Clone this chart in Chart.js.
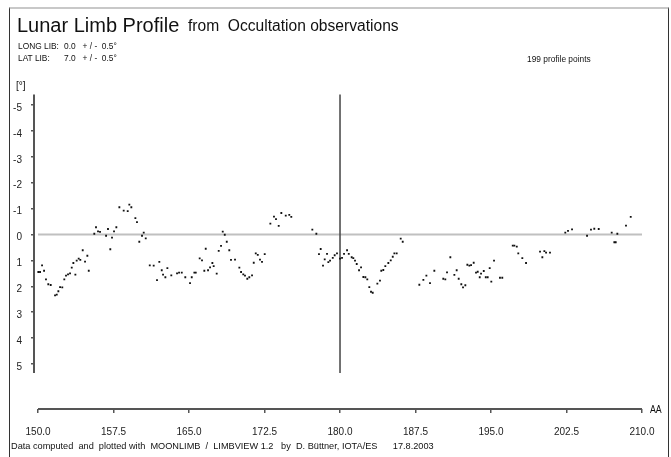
<!DOCTYPE html>
<html>
<head>
<meta charset="utf-8">
<script src="https://cdn.jsdelivr.net/npm/chart.js@4.4.1/dist/chart.umd.min.js"></script>
<style>
  body { margin: 0; background: #fff; font-family: "Liberation Sans", Arial, sans-serif; color: #111; }
  #wrap { position: relative; width: 671px; height: 457px; overflow: hidden; }
  #limbChart { position: absolute; left: 0; top: 0; }
  #frame { position: absolute; left: 9px; top: 7px; width: 658px; height: 470px;
           border-top: 2px solid #c8c8c8; border-left: 1px solid #333; border-right: 1px solid #333; }
  .t { position: absolute; white-space: pre; line-height: 1; }
  .n { transform: scaleX(0.88); transform-origin: 0 0; }
</style>
</head>
<body>
<div id="wrap">
  <canvas id="limbChart" width="671" height="457"></canvas>
  <div id="frame"></div>
  <div class="t" style="left:17px;top:15px;font-size:20px">Lunar Limb Profile</div>
  <div class="t" style="left:188px;top:18px;font-size:15.6px">from  Occultation observations</div>
  <div class="t n" style="left:18px;top:41px;font-size:9.5px">LONG LIB:</div>
  <div class="t n" style="left:64px;top:41px;font-size:9.5px">0.0   + / -  0.5°</div>
  <div class="t n" style="left:18px;top:53px;font-size:9.5px">LAT LIB:</div>
  <div class="t n" style="left:64px;top:53px;font-size:9.5px">7.0   + / -  0.5°</div>
  <div class="t n" style="left:527px;top:54px;font-size:9.5px">199 profile points</div>
  <div class="t" style="left:16px;top:81px;font-size:10px">[°]</div>
  <div class="t n" style="left:650px;top:405px;font-size:10px">AA</div>
  <div class="t" style="left:11px;top:442px;font-size:9.2px">Data computed  and  plotted with  MOONLIMB  /  LIMBVIEW 1.2   by  D. Büttner, IOTA/ES      17.8.2003</div>
</div>
<script>
// profile points: Watts angle (AA, deg) and limb height (")
const aa = [
  150.03, 150.20, 150.40, 150.60, 150.79, 151.02, 151.26, 151.69, 151.86, 152.02,
  152.19, 152.41, 152.61, 152.78, 152.98, 153.18, 153.35, 153.51, 153.71, 153.84,
  154.04, 154.20, 154.44, 154.67, 154.90, 155.04, 155.59, 155.76, 155.96, 156.16,
  156.76, 156.95, 157.18, 157.35, 157.55, 157.78, 158.08, 158.51, 158.91, 159.07,
  159.27, 159.67, 159.83, 160.06, 160.33, 160.50, 160.70, 161.10, 161.49, 161.82,
  162.05, 162.29, 162.42, 162.65, 162.85, 163.24, 163.81, 164.01, 164.28, 164.63,
  165.10, 165.27, 165.53, 165.67, 166.06, 166.29, 166.52, 166.66, 166.89, 167.09,
  167.32, 167.45, 167.75, 167.95, 168.18, 168.35, 168.55, 168.75, 169.00, 169.17,
  169.57, 170.00, 170.17, 170.39, 170.56, 170.79, 170.99, 171.26, 171.43, 171.63,
  171.83, 172.05, 172.25, 172.52, 173.08, 173.44, 173.64, 173.91, 174.17, 174.61,
  174.96, 175.16, 177.25, 177.65, 177.91, 178.08, 178.31, 178.48, 178.71, 178.84,
  179.01, 179.28, 179.47, 179.70, 180.00, 180.20, 180.40, 180.70, 180.87, 181.16,
  181.32, 181.49, 181.66, 181.89, 182.09, 182.32, 182.52, 182.71, 182.91, 183.08,
  183.25, 183.71, 183.97, 184.10, 184.30, 184.50, 184.80, 185.04, 185.24, 185.40,
  185.63, 186.03, 186.23, 187.88, 188.28, 188.58, 188.94, 189.37, 190.26, 190.46,
  190.63, 190.96, 191.36, 191.59, 191.79, 192.05, 192.22, 192.45, 192.65, 192.85,
  193.02, 193.28, 193.51, 193.68, 193.88, 194.01, 194.28, 194.48, 194.67, 194.87,
  195.03, 195.30, 195.89, 196.12, 197.16, 197.32, 197.56, 197.71, 198.11, 198.48,
  199.87, 200.10, 200.30, 200.47, 200.86, 202.38, 202.65, 203.05, 204.54, 204.93,
  205.26, 205.70, 206.99, 207.25, 207.39, 207.55, 208.41, 208.88
];
const limb = [
  1.45, 1.45, 1.19, 1.40, 1.73, 1.92, 1.95, 2.35, 2.32, 2.19,
  2.03, 2.04, 1.73, 1.59, 1.54, 1.50, 1.28, 1.10, 1.55, 1.01,
  0.93, 0.98, 0.61, 1.05, 0.82, 1.40, -0.03, -0.28, -0.12, -0.10,
  0.05, -0.21, 0.57, 0.12, -0.12, -0.28, -1.05, -0.92, -0.90, -1.15,
  -1.05, -0.63, -0.48, 0.28, 0.05, -0.07, 0.15, 1.19, 1.20, 1.76,
  1.06, 1.38, 1.55, 1.65, 1.30, 1.58, 1.50, 1.47, 1.47, 1.65,
  1.88, 1.65, 1.47, 1.47, 0.92, 1.00, 1.40, 0.55, 1.38, 1.27,
  1.10, 1.22, 1.51, 0.63, 0.44, -0.11, 0.01, 0.28, 0.61, 0.98,
  0.97, 1.28, 1.45, 1.54, 1.59, 1.71, 1.65, 1.58, 1.09, 0.73,
  0.79, 0.97, 1.06, 0.76, -0.42, -0.69, -0.59, -0.33, -0.83, -0.73,
  -0.76, -0.68, -0.19, -0.03, 0.76, 0.56, 1.20, 0.96, 0.75, 1.07,
  1.01, 0.90, 0.80, 0.73, 0.93, 0.90, 0.75, 0.61, 0.75, 0.88,
  0.91, 1.01, 1.14, 1.38, 1.27, 1.64, 1.65, 1.73, 2.03, 2.21,
  2.25, 1.90, 1.78, 1.40, 1.37, 1.22, 1.10, 1.00, 0.86, 0.73,
  0.73, 0.16, 0.28, 1.94, 1.75, 1.59, 1.88, 1.40, 1.71, 1.73,
  1.46, 0.88, 1.56, 1.38, 1.71, 1.92, 2.04, 1.96, 1.17, 1.20,
  1.18, 1.09, 1.47, 1.44, 1.65, 1.51, 1.41, 1.65, 1.65, 1.30,
  1.82, 1.01, 1.67, 1.67, 0.43, 0.43, 0.47, 0.73, 0.91, 1.10,
  0.66, 0.88, 0.64, 0.70, 0.70, -0.07, -0.14, -0.20, 0.05, -0.19,
  -0.22, -0.21, -0.07, 0.30, 0.30, -0.03, -0.34, -0.68
];
const xTicks = [150, 157.5, 165, 172.5, 180, 187.5, 195, 202.5, 210];
const yTicks = [-5, -4, -3, -2, -1, 0, 1, 2, 3, 4, 5];

// axis lines, zero line and the 180 deg marker
const limbLines = {
  id: "limbLines",
  beforeDatasetsDraw(chart) {
    const { ctx, chartArea, scales: { x, y } } = chart;
    ctx.save();
    ctx.strokeStyle = "#c0c0c0";
    ctx.lineWidth = 2;
    ctx.beginPath();
    ctx.moveTo(x.getPixelForValue(150), y.getPixelForValue(0));
    ctx.lineTo(x.getPixelForValue(210), y.getPixelForValue(0));
    ctx.stroke();

    ctx.strokeStyle = "#444";
    ctx.lineWidth = 1.5;
    ctx.beginPath();
    ctx.moveTo(x.getPixelForValue(180), y.getPixelForValue(-5.4));
    ctx.lineTo(x.getPixelForValue(180), y.getPixelForValue(5.35));
    ctx.stroke();

    ctx.strokeStyle = "#555";
    ctx.lineWidth = 2;
    ctx.beginPath();
    ctx.moveTo(chartArea.left, y.getPixelForValue(-5.4));
    ctx.lineTo(chartArea.left, y.getPixelForValue(5.35));
    ctx.moveTo(x.getPixelForValue(150), chartArea.bottom);
    ctx.lineTo(x.getPixelForValue(210), chartArea.bottom);
    ctx.stroke();
    ctx.restore();
  }
};

new Chart(document.getElementById("limbChart"), {
  type: "scatter",
  data: {
    datasets: [{
      data: aa.map((v, i) => ({ x: v, y: limb[i] })),
      backgroundColor: "#111",
      borderColor: "#111",
      borderWidth: 0,
      pointStyle: "rect",
      pointRadius: 1.3,
      pointHoverRadius: 1.3
    }]
  },
  options: {
    responsive: false,
    animation: false,
    events: [],
    layout: { padding: { left: 0, right: 29, top: 94.6, bottom: 0 } },
    plugins: { legend: { display: false }, tooltip: { enabled: false } },
    scales: {
      x: {
        type: "linear",
        min: 149.6,
        max: 210,
        afterBuildTicks: s => { s.ticks = xTicks.map(v => ({ value: v })); },
        afterFit: s => { s.height = 48; },
        border: { display: false },
        grid: { drawOnChartArea: false, drawTicks: true, tickLength: 4, color: "#555", lineWidth: 1.5 },
        ticks: {
          autoSkip: false, maxRotation: 0, padding: 13, color: "#222",
          font: { family: "Liberation Sans", size: 10 },
          callback: v => Number(v).toFixed(1)
        }
      },
      y: {
        type: "linear",
        reverse: true,
        min: -5.4,
        max: 6.737,
        afterBuildTicks: s => { s.ticks = yTicks.map(v => ({ value: v })); },
        afterFit: s => { s.width = 34; },
        border: { display: false },
        grid: { drawOnChartArea: false, drawTicks: true, tickLength: 3, color: "#555", lineWidth: 1.5 },
        ticks: {
          padding: 9, labelOffset: 3, color: "#222",
          font: { family: "Liberation Sans", size: 10 },
          callback: v => String(v)
        }
      }
    }
  },
  plugins: [limbLines]
});
</script>
</body>
</html>
